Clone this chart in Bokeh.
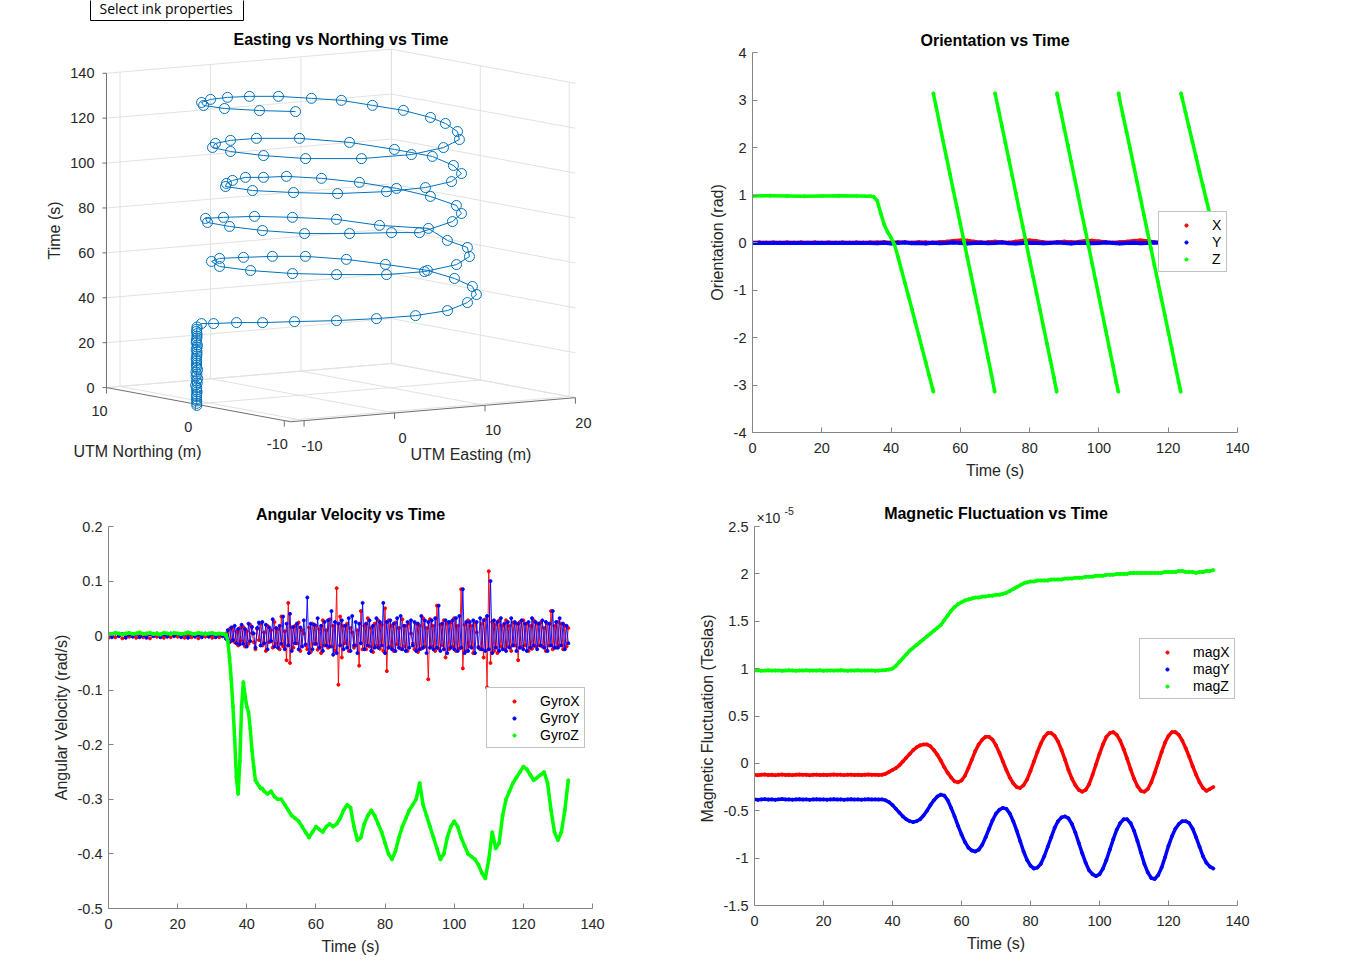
import math
from bokeh.plotting import figure
from bokeh.layouts import column, row
from bokeh.models import (Range1d, FixedTicker, CustomJSTickFormatter, Legend,
                          LegendItem, Label, Title)
from bokeh.embed import file_html
from bokeh.resources import INLINE
from bokeh.core.properties import value

FONT = "Liberation Sans"
TXT = "#262626"
AXC = "#858585"
GRIDC = "#e2e2e2"
RED, BLUE, GREEN = "#ff0000", "#0000ff", "#00ff00"
TRACK = "#0072bd"

# ------------------------------------------------------------------ data
# GPS track, 1 Hz: time (s), UTM easting / northing offsets (m)
gps_t = list(range(133))
gps_e = [
    -11.95, -12.02, -11.98, -12.05, -11.97, -12.01, -11.93, -12.04, -11.99, -12.06,
    -11.96, -12.00, -11.94, -12.03, -11.98, -12.05, -11.92, -12.01, -11.97, -12.04,
    -11.99, -12.07, -11.95, -12.02, -11.96, -12.03, -11.98, -11.93, -12.01, -12.05,
    -11.97, -12.00, -11.94, -12.02, -11.98, -11.97,
    -11.15, -11.16, -9.93, -8.88, -6.96, -4.28, -1.35, 1.93, 5.49, 9.38,
    12.43, 14.49, 15.50, 15.82, 14.17, 12.34, 9.54, 6.11, 2.58, -0.58,
    -3.35, -5.72, -5.94, -4.91, -2.90, -0.03, 3.16, 7.55, 10.91, 13.53,
    13.97, 16.54, 13.14, 11.42, 7.98, 4.58, 0.89, -1.82, -4.23, -5.13,
    -5.20, -4.17, -1.67, 1.00, 2.20, 8.31, 11.37, 13.35, 14.16, 13.95,
    12.68, 10.52, 7.76, 4.68, 2.39, -0.76, -3.37, -5.61, -6.13, -4.76,
    -2.75, 0.86, 4.55, 8.07, 11.20, 12.96, 14.14, 13.21, 11.76, 8.68,
    4.49, 0.77, -2.53, -5.33, -6.53, -6.60, -5.56, -2.24, 2.28, 6.67,
    10.25, 12.47, 13.93, 14.33, 14.24, 13.02, 11.80, 9.42, 6.82, 3.69,
    0.69, -2.35, -5.19, -7.20, -7.77, -6.86, -5.46]
gps_n = [
    -0.62, -0.68, -0.64, -0.70, -0.61, -0.66, -0.63, -0.69, -0.65, -0.60,
    -0.67, -0.64, -0.71, -0.62, -0.66, -0.63, -0.68, -0.65, -0.61, -0.69,
    -0.64, -0.67, -0.62, -0.70, -0.65, -0.63, -0.68, -0.66, -0.61, -0.67,
    -0.64, -0.69, -0.63, -0.66, -0.65, -0.66,
    -0.33, -1.70, -3.03, -4.89, -6.53, -8.53, -10.04, -11.10, -11.07, -9.36,
    -7.27, -4.72, -1.67, 1.69, 4.74, 7.27, 9.03, 9.25, 8.91, 8.39,
    6.48, 3.16, -0.55, -4.22, -7.13, -9.83, -10.85, -9.99, -8.03, -5.13,
    -2.43, 2.32, 4.36, 7.45, 8.90, 9.71, 9.44, 8.71, 6.03, 2.64,
    -1.14, -4.82, -7.34, -9.34, -11.27, -8.76, -6.66, -4.08, -0.33, 3.27,
    6.15, 8.22, 9.35, 8.80, 8.50, 6.75, 4.77, 2.60, -0.96, -4.18,
    -7.09, -8.92, -9.55, -8.90, -6.84, -4.14, -0.57, 2.75, 6.33, 8.82,
    9.40, 8.53, 6.87, 4.35, 1.10, -2.68, -6.35, -9.26, -10.28, -9.42,
    -7.57, -5.09, -2.25, -0.16, 2.79, 5.03, 7.28, 8.23, 9.29, 9.37,
    8.79, 7.60, 5.72, 3.45, 0.52, -2.49, -5.12]

# Orientation (rad): X and Y every 2 s, Z (yaw, wrapped to +-pi) at its own times
ori_t = list(range(0, 133, 2))
ori_x = [0.0, 0.005, 0.0, 0.005, 0.0, 0.005, 0.0, 0.005, 0.0, 0.005,
         0.0, 0.005, 0.0, 0.005, 0.0, 0.005, 0.0, 0.005,
         0.005, 0.01, 0.0, 0.01, 0.005, 0.0, 0.01, 0.005, 0.0, 0.01,
         0.02, 0.035, 0.045, 0.04, 0.02, 0.005, 0.01, 0.02, 0.01, 0.0,
         0.02, 0.04, 0.045, 0.03, 0.01, 0.0, 0.01, 0.02, 0.01, 0.015,
         0.035, 0.04, 0.025, 0.01, 0.0, 0.01, 0.02, 0.035, 0.045, 0.03,
         0.01, 0.0, 0.01, 0.005, 0.0, 0.01, 0.0, 0.005, 0.0]
ori_y = [-0.01, -0.012, -0.01, -0.011, -0.01, -0.012, -0.01, -0.011, -0.01, -0.012,
         -0.01, -0.011, -0.01, -0.012, -0.01, -0.011, -0.01, -0.012,
         -0.015, -0.005, -0.02, -0.01, 0.0, -0.015, -0.01, -0.02, -0.005, -0.015,
         -0.01, 0.0, -0.01, -0.02, -0.01, -0.005, -0.015, -0.01, 0.0, -0.015,
         -0.02, -0.01, -0.005, -0.01, -0.015, -0.01, 0.0, -0.01, -0.02, -0.005,
         -0.01, -0.015, -0.01, 0.0, -0.01, -0.02, -0.01, -0.005, -0.015, -0.01,
         0.0, -0.01, -0.015, -0.01, -0.005, -0.01, -0.015, -0.01, -0.01]
ori_z_t = [0, 5, 10, 15, 20, 25, 30, 34, 35, 36, 37, 38, 39, 40, 41, 42, 43, 44, 45,
           46, 47, 48, 49, 50, 51, 52, 52.2,
           52.2, 53, 54, 55, 56, 57, 58, 59, 60, 61, 62, 63, 64, 65, 66, 67, 68, 69, 69.9,
           70, 71, 72, 73, 74, 75, 76, 77, 78, 79, 80, 81, 82, 83, 84, 85, 86, 87, 87.8,
           87.9, 88, 89, 90, 91, 92, 93, 94, 95, 96, 97, 98, 99, 100, 101, 102, 103, 104,
           105, 105.6,
           105.7, 106, 107, 108, 109, 110, 111, 112, 113, 114, 115, 116, 117, 118, 119,
           120, 121, 122, 123, 123.6,
           123.7, 124, 125, 126, 127, 128, 129, 130, 131, 132, 133]
ori_z = [0.98, 0.985, 0.98, 0.975, 0.98, 0.985, 0.98, 0.975, 0.96, 0.88, 0.62, 0.38,
         0.22, 0.10, -0.05, -0.30, -0.58, -0.85, -1.12, -1.40, -1.68, -1.96, -2.24,
         -2.52, -2.80, -3.08, -3.14,
         3.14, 2.86, 2.50, 2.14, 1.79, 1.44, 1.09, 0.74, 0.39, 0.04, -0.31, -0.66,
         -1.01, -1.36, -1.71, -2.07, -2.43, -2.79, -3.14,
         3.14, 2.80, 2.45, 2.10, 1.75, 1.40, 1.04, 0.69, 0.34, -0.01, -0.37, -0.72,
         -1.07, -1.42, -1.78, -2.13, -2.48, -2.84, -3.14,
         3.14, 3.10, 2.75, 2.40, 2.05, 1.70, 1.34, 0.99, 0.63, 0.28, -0.07, -0.43,
         -0.78, -1.14, -1.50, -1.86, -2.22, -2.58, -2.94, -3.14,
         3.14, 3.00, 2.66, 2.32, 1.98, 1.63, 1.28, 0.93, 0.58, 0.23, -0.12, -0.47,
         -0.82, -1.17, -1.52, -1.87, -2.22, -2.58, -2.93, -3.14,
         3.14, 3.05, 2.74, 2.43, 2.12, 1.81, 1.50, 1.20, 0.90, 0.60, 0.30]

# Gyro X / Y: 1 s samples while parked, 0.5 s samples once driving
gyro_xy_t = list(range(34)) + [k / 2 for k in range(68, 267)]
gyro_x = [-0.004, 0.001, -0.003, 0.002, -0.005, 0.001, -0.002, 0.003, -0.004, 0.000,
          -0.003, 0.002, -0.005, 0.001, -0.002, 0.002, -0.004, 0.000, -0.003, 0.003,
          -0.002, 0.001, -0.004, 0.002, -0.003, 0.001, -0.005, 0.002, -0.002, 0.001,
          -0.004, 0.002, -0.003, 0.001,
          0.004, -0.008, 0.012, -0.010, 0.015, -0.012, 0.008, -0.018, 0.014, -0.010,
          0.016, -0.020, 0.008, -0.015, 0.020, 0.005, -0.012, -0.025, 0.012, -0.008,
          0.022, -0.018, 0.006, -0.028, 0.018, -0.012, 0.010, -0.022, 0.025, -0.015,
          0.012, -0.025, 0.035, -0.020, 0.008, -0.045, 0.060, -0.050, 0.015, -0.022,
          0.018, -0.014, 0.024, -0.028, 0.010, 0.004, -0.018, -0.025, 0.015, -0.030,
          0.022, -0.015, 0.018, -0.026, 0.012, -0.032, 0.028, -0.018, 0.010, -0.022,
          0.030, -0.020, 0.018, -0.028, 0.087, -0.090, 0.035, -0.040, 0.018, -0.014,
          0.022, -0.028, 0.014, 0.006, -0.022, -0.018, 0.010, -0.055, 0.045, -0.025,
          0.018, -0.025, 0.032, -0.020, 0.014, -0.030, 0.022, -0.018, 0.028, -0.024,
          0.020, -0.028, 0.050, -0.065, 0.028, -0.020, 0.018, -0.028, 0.024, -0.016,
          0.014, -0.024, 0.030, -0.020, 0.018, -0.028, 0.022, 0.004, -0.014, -0.025,
          0.022, -0.030, 0.018, -0.024, 0.032, -0.020, 0.014, -0.080, 0.030, -0.020,
          0.018, -0.028, 0.055, -0.024, 0.020, -0.018, 0.028, -0.040, 0.022, -0.025,
          0.024, -0.020, 0.032, -0.028, 0.018, -0.024, 0.085, -0.060, 0.020, -0.028,
          0.028, -0.020, 0.018, -0.032, 0.024, 0.006, -0.020, -0.025, 0.022, -0.040,
          0.030, -0.095, 0.118, -0.050, 0.025, -0.028, 0.020, -0.032, 0.028, -0.020,
          0.018, -0.025, 0.028, -0.020, 0.018, -0.028, 0.024, -0.018, 0.022, -0.045,
          0.025, -0.020, 0.028, -0.018, 0.022, -0.028, 0.018, -0.024, 0.028, -0.020,
          0.022, -0.018, 0.024, -0.020, 0.014, -0.028, 0.022, -0.018, 0.045, -0.025,
          0.018, -0.022, 0.025, -0.018, 0.022, -0.025, 0.018, -0.020, 0.014]
gyro_y = [0.002, -0.003, 0.004, -0.001, 0.003, -0.004, 0.002, -0.002, 0.003, -0.003,
          0.001, -0.004, 0.003, -0.001, 0.004, -0.003, 0.002, -0.002, 0.004, -0.001,
          0.003, -0.003, 0.002, -0.004, 0.003, -0.002, 0.001, -0.003, 0.004, -0.002,
          0.003, -0.003, 0.002, -0.001,
          -0.006, 0.010, -0.012, 0.015, -0.008, 0.018, -0.014, 0.012, -0.016, 0.020,
          -0.015, 0.012, -0.020, 0.022, -0.010, 0.016, 0.004, -0.022, 0.014, 0.024,
          -0.018, 0.025, -0.014, 0.020, -0.025, 0.015, -0.010, 0.030, -0.020, 0.014,
          -0.022, 0.018, -0.015, 0.035, -0.025, 0.022, -0.018, 0.040, -0.028, 0.016,
          -0.014, 0.022, -0.025, 0.015, -0.020, 0.028, -0.016, 0.070, -0.032, 0.022,
          -0.025, 0.020, -0.015, 0.032, -0.022, 0.018, -0.028, 0.025, -0.018, 0.028,
          -0.020, 0.045, -0.035, 0.025, -0.032, 0.022, -0.018, 0.028, -0.025, 0.018,
          -0.022, 0.032, -0.028, 0.036, -0.018, 0.025, -0.032, 0.022, -0.014, 0.060,
          -0.025, 0.022, -0.018, 0.028, -0.028, 0.018, -0.022, 0.032, -0.022, 0.025,
          -0.018, 0.060, -0.032, 0.025, -0.022, 0.028, -0.025, 0.022, -0.028, 0.032,
          -0.022, 0.036, -0.025, 0.018, -0.028, 0.025, -0.022, 0.028, -0.018, 0.025,
          -0.028, 0.022, -0.025, 0.036, -0.022, 0.028, -0.032, 0.025, -0.022, 0.028,
          -0.025, 0.032, -0.022, 0.055, -0.028, 0.022, -0.025, 0.028, -0.032, 0.025,
          -0.022, 0.028, -0.025, 0.032, -0.028, 0.036, -0.022, 0.085, -0.032, 0.025,
          -0.028, 0.025, -0.022, 0.028, -0.032, 0.025, -0.022, 0.032, -0.025, 0.028,
          -0.028, 0.036, -0.025, 0.100, -0.032, 0.028, -0.022, 0.025, -0.028, 0.032,
          -0.025, 0.022, -0.028, 0.025, -0.022, 0.032, -0.018, 0.025, -0.028, 0.022,
          -0.022, 0.028, -0.025, 0.022, -0.028, 0.025, -0.022, 0.032, -0.018, 0.025,
          -0.025, 0.022, -0.018, 0.028, -0.022, 0.025, -0.028, 0.022, -0.018, 0.045,
          -0.022, 0.025, -0.022, 0.032, -0.018, 0.022, -0.025, 0.018, -0.014]
gyro_z_t = (list(range(34))
            + [34, 34.5, 35, 35.5, 36, 36.5, 37, 37.5, 38, 38.5, 39, 39.5, 40, 40.5,
               41, 41.5, 42, 42.5, 43, 43.5, 44, 44.5]
            + list(range(45, 134)))
gyro_z = [0.004, 0.003, 0.005, 0.004, 0.002, 0.004, 0.005, 0.003, 0.004, 0.006,
          0.003, 0.004, 0.005, 0.003, 0.004, 0.002, 0.005, 0.004, 0.003, 0.005,
          0.004, 0.003, 0.004, 0.006, 0.004, 0.003, 0.005, 0.004, 0.003, 0.004,
          0.005, 0.003, 0.004, 0.003,
          0.002, -0.01, -0.04, -0.08, -0.13, -0.19, -0.26, -0.29, -0.23, -0.13,
          -0.085, -0.11, -0.13, -0.14, -0.17, -0.21, -0.24, -0.265, -0.27, -0.275,
          -0.28, -0.28,
          -0.285, -0.29, -0.285, -0.295, -0.30, -0.30, -0.31, -0.32, -0.33, -0.335,
          -0.34, -0.35, -0.36, -0.37, -0.36, -0.35, -0.355, -0.36, -0.35, -0.345,
          -0.35, -0.345, -0.335, -0.32, -0.31, -0.315, -0.35, -0.375, -0.37, -0.345,
          -0.33, -0.32, -0.33, -0.345, -0.36, -0.38, -0.40, -0.41, -0.395, -0.37,
          -0.35, -0.335, -0.32, -0.31, -0.30, -0.27, -0.31, -0.33, -0.35, -0.37,
          -0.39, -0.41, -0.40, -0.37, -0.35, -0.34, -0.35, -0.37, -0.385, -0.40,
          -0.405, -0.41, -0.42, -0.435, -0.445, -0.41, -0.36, -0.39, -0.38, -0.33,
          -0.30, -0.285, -0.27, -0.26, -0.25, -0.24, -0.245, -0.255, -0.265, -0.26,
          -0.255, -0.25, -0.27, -0.32, -0.36, -0.375, -0.36, -0.32, -0.265]

# Magnetometer once per second, in units of 1e-5 T
mag_t = list(range(134))
mag_x = [-0.120, -0.125, -0.120, -0.118, -0.122, -0.120, -0.125, -0.120, -0.118, -0.122,
         -0.120, -0.124, -0.120, -0.118, -0.121, -0.120, -0.125, -0.120, -0.119, -0.122,
         -0.120, -0.123, -0.120, -0.118, -0.121, -0.120, -0.124, -0.120, -0.119, -0.122,
         -0.120, -0.123, -0.120, -0.118, -0.121, -0.120, -0.122,
         -0.12, -0.11, -0.09, -0.07, -0.05, -0.02, 0.02, 0.06, 0.10, 0.14,
         0.17, 0.19, 0.20, 0.20, 0.18, 0.14, 0.09, 0.03, -0.04, -0.10,
         -0.15, -0.19, -0.20, -0.18, -0.13, -0.05, 0.04, 0.13, 0.20, 0.25,
         0.28, 0.28, 0.25, 0.19, 0.11, 0.02, -0.07, -0.15, -0.21, -0.25,
         -0.26, -0.23, -0.17, -0.08, 0.02, 0.12, 0.21, 0.28, 0.32, 0.32,
         0.29, 0.23, 0.14, 0.04, -0.07, -0.16, -0.23, -0.28, -0.30, -0.28,
         -0.22, -0.12, -0.01, 0.10, 0.20, 0.28, 0.32, 0.33, 0.30, 0.24,
         0.15, 0.05, -0.06, -0.16, -0.24, -0.29, -0.30, -0.27, -0.20, -0.10,
         0.01, 0.12, 0.22, 0.29, 0.33, 0.33, 0.30, 0.24, 0.16, 0.07,
         -0.03, -0.12, -0.20, -0.26, -0.29, -0.27, -0.25]
mag_y = [-0.380, -0.385, -0.380, -0.378, -0.382, -0.380, -0.384, -0.380, -0.377, -0.381,
         -0.380, -0.383, -0.380, -0.378, -0.382, -0.380, -0.385, -0.380, -0.379, -0.381,
         -0.380, -0.383, -0.380, -0.378, -0.381, -0.380, -0.384, -0.380, -0.379, -0.382,
         -0.380, -0.383, -0.380, -0.378, -0.381, -0.380, -0.382,
         -0.38, -0.39, -0.41, -0.44, -0.48, -0.52, -0.56, -0.59, -0.61, -0.62,
         -0.61, -0.59, -0.55, -0.50, -0.44, -0.39, -0.35, -0.33, -0.34, -0.39,
         -0.47, -0.56, -0.66, -0.75, -0.83, -0.89, -0.92, -0.93, -0.91, -0.86,
         -0.78, -0.69, -0.60, -0.53, -0.49, -0.47, -0.48, -0.53, -0.61, -0.71,
         -0.82, -0.93, -1.02, -1.08, -1.11, -1.10, -1.06, -0.98, -0.88, -0.78,
         -0.68, -0.61, -0.57, -0.56, -0.58, -0.64, -0.73, -0.84, -0.95, -1.05,
         -1.13, -1.17, -1.19, -1.17, -1.11, -1.02, -0.91, -0.80, -0.70, -0.63,
         -0.59, -0.59, -0.63, -0.71, -0.82, -0.94, -1.06, -1.15, -1.21, -1.22,
         -1.18, -1.10, -0.99, -0.87, -0.77, -0.69, -0.64, -0.61, -0.61, -0.63,
         -0.69, -0.78, -0.88, -0.98, -1.05, -1.09, -1.11]
mag_z = [0.980, 0.982, 0.978, 0.980, 0.983, 0.979, 0.980, 0.981, 0.977, 0.980,
         0.982, 0.980, 0.978, 0.981, 0.980, 0.983, 0.979, 0.980, 0.980, 0.982,
         0.978, 0.980, 0.981, 0.979, 0.980, 0.983, 0.980, 0.978, 0.981, 0.980,
         0.982, 0.979, 0.980, 0.980, 0.981, 0.978, 0.980, 0.982, 0.985,
         0.99, 1.00, 1.03, 1.07, 1.11, 1.15, 1.19, 1.22, 1.25, 1.28,
         1.31, 1.34, 1.37, 1.40, 1.43, 1.46, 1.51, 1.56, 1.61, 1.65,
         1.68, 1.70, 1.72, 1.73, 1.74, 1.75, 1.75, 1.76, 1.76, 1.77,
         1.77, 1.78, 1.78, 1.79, 1.80, 1.82, 1.84, 1.86, 1.88, 1.90,
         1.91, 1.92, 1.92, 1.93, 1.93, 1.93, 1.93, 1.94, 1.94, 1.94,
         1.94, 1.95, 1.95, 1.95, 1.96, 1.96, 1.96, 1.97, 1.97, 1.97,
         1.98, 1.98, 1.98, 1.99, 1.99, 1.99, 2.00, 2.00, 2.00, 2.00,
         2.01, 2.01, 2.01, 2.01, 2.01, 2.01, 2.01, 2.01, 2.01, 2.01,
         2.02, 2.02, 2.02, 2.02, 2.03, 2.03, 2.02, 2.02, 2.02, 2.01,
         2.02, 2.02, 2.03, 2.03, 2.04]

TIME_TICKS = [0, 20, 40, 60, 80, 100, 120, 140]

# ------------------------------------------------------------------ 3-D track panel
AZ, EL = math.radians(-34.0), math.radians(7.2)      # view azimuth / elevation
KE, KN, KT = 10.91, 15.9, 2.263                       # plot-box scale per metre / second
E_LIM, N_LIM, T_LIM = (-11.5, 20.0), (-10.7, 10.0), (0.0, 140.0)
E_TICKS, N_TICKS = [-10, 0, 10, 20], [-10, 0, 10]
ORIGIN = (298.9, 394.8)                              # pixel spot of (0, 0, 0) in the panel
W1, H1 = 680, 481


def proj(e, n, t):
    X, Y, Z = e * KE, n * KN, t * KT
    sx = X * math.cos(AZ) + Y * math.sin(AZ)
    sy = (-X * math.sin(AZ) * math.sin(EL) + Y * math.cos(AZ) * math.sin(EL)
          + Z * math.cos(EL))
    return sx, sy


p1 = figure(width=W1, height=H1, x_range=Range1d(-ORIGIN[0], W1 - ORIGIN[0]),
            y_range=Range1d(ORIGIN[1] - H1, ORIGIN[1]), x_axis_type=None,
            y_axis_type=None, min_border=0, toolbar_location=None, title=None,
            output_backend="svg", outline_line_color=None)

e0, e1 = E_LIM
n0, n1 = N_LIM
t0, t1 = T_LIM
gxs, gys = [], []


def grid_seg(a, b):
    xa, ya = proj(*a)
    xb, yb = proj(*b)
    gxs.append([xa, xb])
    gys.append([ya, yb])


for e in E_TICKS:
    grid_seg((e, n0, t0), (e, n1, t0))
    grid_seg((e, n1, t0), (e, n1, t1))
for n in N_TICKS:
    grid_seg((e0, n, t0), (e1, n, t0))
    grid_seg((e1, n, t0), (e1, n, t1))
for t in TIME_TICKS:
    grid_seg((e0, n1, t), (e1, n1, t))
    grid_seg((e1, n0, t), (e1, n1, t))
p1.multi_line(gxs, gys, line_color=GRIDC, line_width=1)

# axis lines and tick marks
axs, ays = [], []
for a, b in [((e0, n1, t0), (e0, n1, t1)), ((e0, n1, t0), (e0, n0, t0)),
             ((e0, n0, t0), (e1, n0, t0))]:
    xa, ya = proj(*a)
    xb, yb = proj(*b)
    axs.append([xa, xb])
    ays.append([ya, yb])
for t in TIME_TICKS:
    x, y = proj(e0, n1, t)
    axs.append([x, x - 4])
    ays.append([y, y])
for e in E_TICKS:
    x, y = proj(e, n0, t0)
    axs.append([x, x])
    ays.append([y, y - 6])
for n in N_TICKS:
    x, y = proj(e0, n, t0)
    axs.append([x, x])
    ays.append([y, y - 6])
p1.multi_line(axs, ays, line_color="#6f6f6f", line_width=1)

# tick labels
lx, ly, lt, la = [], [], [], []
for t in TIME_TICKS:
    x, y = proj(e0, n1, t)
    lx.append(x - 12)
    ly.append(y)
    lt.append(str(t))
    la.append("right")
for n in N_TICKS:
    x, y = proj(e0, n, t0)
    lx.append(x - 7)
    ly.append(y - 23)
    lt.append(str(n))
    la.append("center")
for e in E_TICKS:
    x, y = proj(e, n0, t0)
    lx.append(x + 8)
    ly.append(y - 25)
    lt.append(str(e))
    la.append("center")
p1.text(x=lx, y=ly, text=lt, text_align=la, text_baseline="middle",
        text_font=value(FONT), text_font_size=value("14.5px"), text_color=TXT)

# axis titles
tx, ty = proj(e0, n1, (t0 + t1) / 2)
nx0, ny0 = proj(e0, n1, t0)
nx1, ny1 = proj(e0, n0, t0)
ex1, ey1 = proj(e1, n0, t0)
p1.text(x=[tx - 52], y=[ty], text=["Time (s)"], angle=[math.pi / 2],
        text_align="center", text_baseline="middle", text_font=value(FONT),
        text_font_size=value("16px"), text_color=TXT)
p1.text(x=[(nx0 + nx1) / 2 - 61, (nx1 + ex1) / 2 + 38],
        y=[(ny0 + ny1) / 2 - 47, (ny1 + ey1) / 2 - 45],
        text=["UTM Northing (m)", "UTM Easting (m)"], text_align="center",
        text_baseline="middle", text_font=value(FONT), text_font_size=value("16px"),
        text_color=TXT)

corners = [proj(e, n, t) for e in E_LIM for n in N_LIM for t in T_LIM]
p1.text(x=[(min(c[0] for c in corners) + max(c[0] for c in corners)) / 2],
        y=[max(c[1] for c in corners) + 10], text=["Easting vs Northing vs Time"],
        text_align="center", text_baseline="middle", text_font=value(FONT),
        text_font_size=value("16px"), text_font_style="bold", text_color="black")

# track
trk = [proj(e, n, t) for e, n, t in zip(gps_e, gps_n, gps_t)]
trk_x = [c[0] for c in trk]
trk_y = [c[1] for c in trk]
p1.line(trk_x, trk_y, line_color=TRACK, line_width=1)
p1.scatter(trk_x, trk_y, marker="circle", size=10, fill_color=None,
           line_color=TRACK, line_width=1)

# floating tooltip box in the corner of the window
p1.quad(left=[90 - ORIGIN[0]], right=[243 - ORIGIN[0]], top=[ORIGIN[1] + 5],
        bottom=[ORIGIN[1] - 20], fill_color="white", line_color="black", line_width=1)
p1.text(x=[99 - ORIGIN[0]], y=[ORIGIN[1] - 8], text=["Select ink properties"],
        text_align="left", text_baseline="middle", text_font=value("Open Sans"),
        text_font_size=value("14px"), text_color="black")

# ------------------------------------------------------------------ 2-D panels
FMT = CustomJSTickFormatter(code="return (Math.round(tick * 10) / 10).toString();")


def style_axes(p, yticks):
    p.xaxis.ticker = FixedTicker(ticks=TIME_TICKS)
    p.yaxis.ticker = FixedTicker(ticks=yticks)
    p.xaxis.axis_label = "Time (s)"
    for ax in (p.xaxis[0], p.yaxis[0]):
        ax.formatter = FMT
        ax.axis_line_color = AXC
        ax.major_tick_line_color = AXC
        ax.major_tick_in = 5
        ax.major_tick_out = 0
        ax.minor_tick_line_color = None
        ax.major_label_text_font = FONT
        ax.major_label_text_font_size = "14.5px"
        ax.major_label_text_color = TXT
        ax.axis_label_text_font = FONT
        ax.axis_label_text_font_size = "16px"
        ax.axis_label_text_font_style = "normal"
        ax.axis_label_text_color = TXT
    p.xaxis.major_label_standoff = 10
    p.xaxis.axis_label_standoff = 6
    p.yaxis.major_label_standoff = 6
    p.yaxis.axis_label_standoff = 5
    p.grid.visible = False
    p.outline_line_color = None


def panel(title, lo, hi, yticks, ylabel, left, right, top, bottom, width):
    p = figure(width=width, height=481, title=title, x_range=Range1d(0, 140),
               y_range=Range1d(lo, hi), min_border_left=left,
               min_border_right=right, min_border_top=top, min_border_bottom=bottom,
               toolbar_location=None, output_backend="svg")
    style_axes(p, yticks)
    p.yaxis.axis_label = ylabel
    p.title.align = "center"
    p.title.text_font = FONT
    p.title.text_font_size = "16px"
    p.title.text_font_style = "bold"
    p.title.text_color = "black"
    p.title.standoff = 7
    return p


def add_legend(p, entries, x, y):
    lg = Legend(items=[LegendItem(label=l, renderers=[r]) for l, r in entries],
                location=(x, y), orientation="vertical", margin=0, padding=4,
                spacing=0, glyph_width=46, glyph_height=8, label_height=17,
                label_width=10, label_standoff=3, border_line_color=AXC,
                border_line_width=1, background_fill_color="white",
                background_fill_alpha=1.0, label_text_font=FONT,
                label_text_font_size="14px", label_text_color="black")
    p.add_layout(lg)


# Orientation
p2 = panel("Orientation vs Time", -4, 4, [-4, -3, -2, -1, 0, 1, 2, 3, 4],
           "Orientation (rad)", 72, 124, 52, 48, 681)
p2.line(ori_t, ori_x, line_color=RED, line_width=3.5)
dx = p2.scatter(ori_t, ori_x, size=3, color=RED)
p2.line(ori_t, ori_y, line_color=BLUE, line_width=4)
dy = p2.scatter(ori_t, ori_y, size=3, color=BLUE)
zs_x, zs_y = [[ori_z_t[0]]], [[ori_z[0]]]
for i in range(1, len(ori_z)):
    if abs(ori_z[i] - ori_z[i - 1]) > math.pi:
        zs_x.append([])
        zs_y.append([])
    zs_x[-1].append(ori_z_t[i])
    zs_y[-1].append(ori_z[i])
p2.multi_line(zs_x, zs_y, line_color=GREEN, line_width=3.5)
dz = p2.scatter(ori_z_t, ori_z, size=3, color=GREEN)
add_legend(p2, [("X", dx), ("Y", dy), ("Z", dz)], 406, 160)

# Angular velocity
p3 = panel("Angular Velocity vs Time", -0.5, 0.2,
           [-0.5, -0.4, -0.3, -0.2, -0.1, 0, 0.1, 0.2],
           "Angular Velocity (rad/s)", 108, 88, 45, 54, 680)
p3.line(gyro_xy_t, gyro_x, line_color=RED, line_width=0.9)
gx = p3.scatter(gyro_xy_t, gyro_x, size=3, color=RED)
p3.line(gyro_xy_t, gyro_y, line_color=BLUE, line_width=0.9)
gy = p3.scatter(gyro_xy_t, gyro_y, size=3, color=BLUE)
p3.line(gyro_z_t, gyro_z, line_color=GREEN, line_width=3.5)
gz = p3.scatter(gyro_z_t, gyro_z, size=3, color=GREEN)
add_legend(p3, [("GyroX", gx), ("GyroY", gy), ("GyroZ", gz)], 378, 160)

# Magnetic field: the frame reaches the top of the figure so that the title and
# the exponent note can sit inside it, above the bounded y axis
M_LO, M_HI, M_GAP, M_BOTTOM = -1.5, 2.5, 45, 57
ppu4 = (481 - M_BOTTOM - M_GAP) / (M_HI - M_LO)
p4 = figure(width=681, height=481, title=None, x_range=Range1d(0, 140),
            y_range=Range1d(M_LO, M_HI + M_GAP / ppu4), min_border_left=74,
            min_border_right=124, min_border_top=0, min_border_bottom=M_BOTTOM,
            toolbar_location=None, output_backend="svg")
style_axes(p4, [-1.5, -1, -0.5, 0, 0.5, 1, 1.5, 2, 2.5])
p4.yaxis.bounds = (M_LO, M_HI)
p4.add_layout(Title(text="Magnetic Fluctuation (Teslas)", align="left", offset=83,
                    text_font=FONT, text_font_size="16px", text_font_style="normal",
                    text_color=TXT, standoff=10), "left")
p4.add_layout(Label(x=70, y=M_HI + 13 / ppu4, text="Magnetic Fluctuation vs Time",
                    text_align="center", text_baseline="middle", text_font=FONT,
                    text_font_size="16px", text_font_style="bold", text_color="black"))
p4.line(mag_t, mag_x, line_color=RED, line_width=3.5)
mx = p4.scatter(mag_t, mag_x, size=3, color=RED)
p4.line(mag_t, mag_y, line_color=BLUE, line_width=3.5)
my = p4.scatter(mag_t, mag_y, size=3, color=BLUE)
p4.line(mag_t, mag_z, line_color=GREEN, line_width=3.5)
mz = p4.scatter(mag_t, mag_z, size=3, color=GREEN)
add_legend(p4, [("magX", mx), ("magY", my), ("magZ", mz)], 385, 206)
p4.add_layout(Label(x=0, y=M_HI + 9 / ppu4, text="×10", x_offset=2,
                    text_font=FONT, text_font_size="14px", text_color=TXT,
                    text_baseline="alphabetic", text_align="left"))
p4.add_layout(Label(x=0, y=M_HI + 16 / ppu4, text="-5", x_offset=30,
                    text_font=FONT, text_font_size="10.5px", text_color=TXT,
                    text_baseline="alphabetic", text_align="left"))

layout = column(row(p1, column(p2)), row(p3, column(p4)))
open("out.html", "w").write(file_html(layout, INLINE))
